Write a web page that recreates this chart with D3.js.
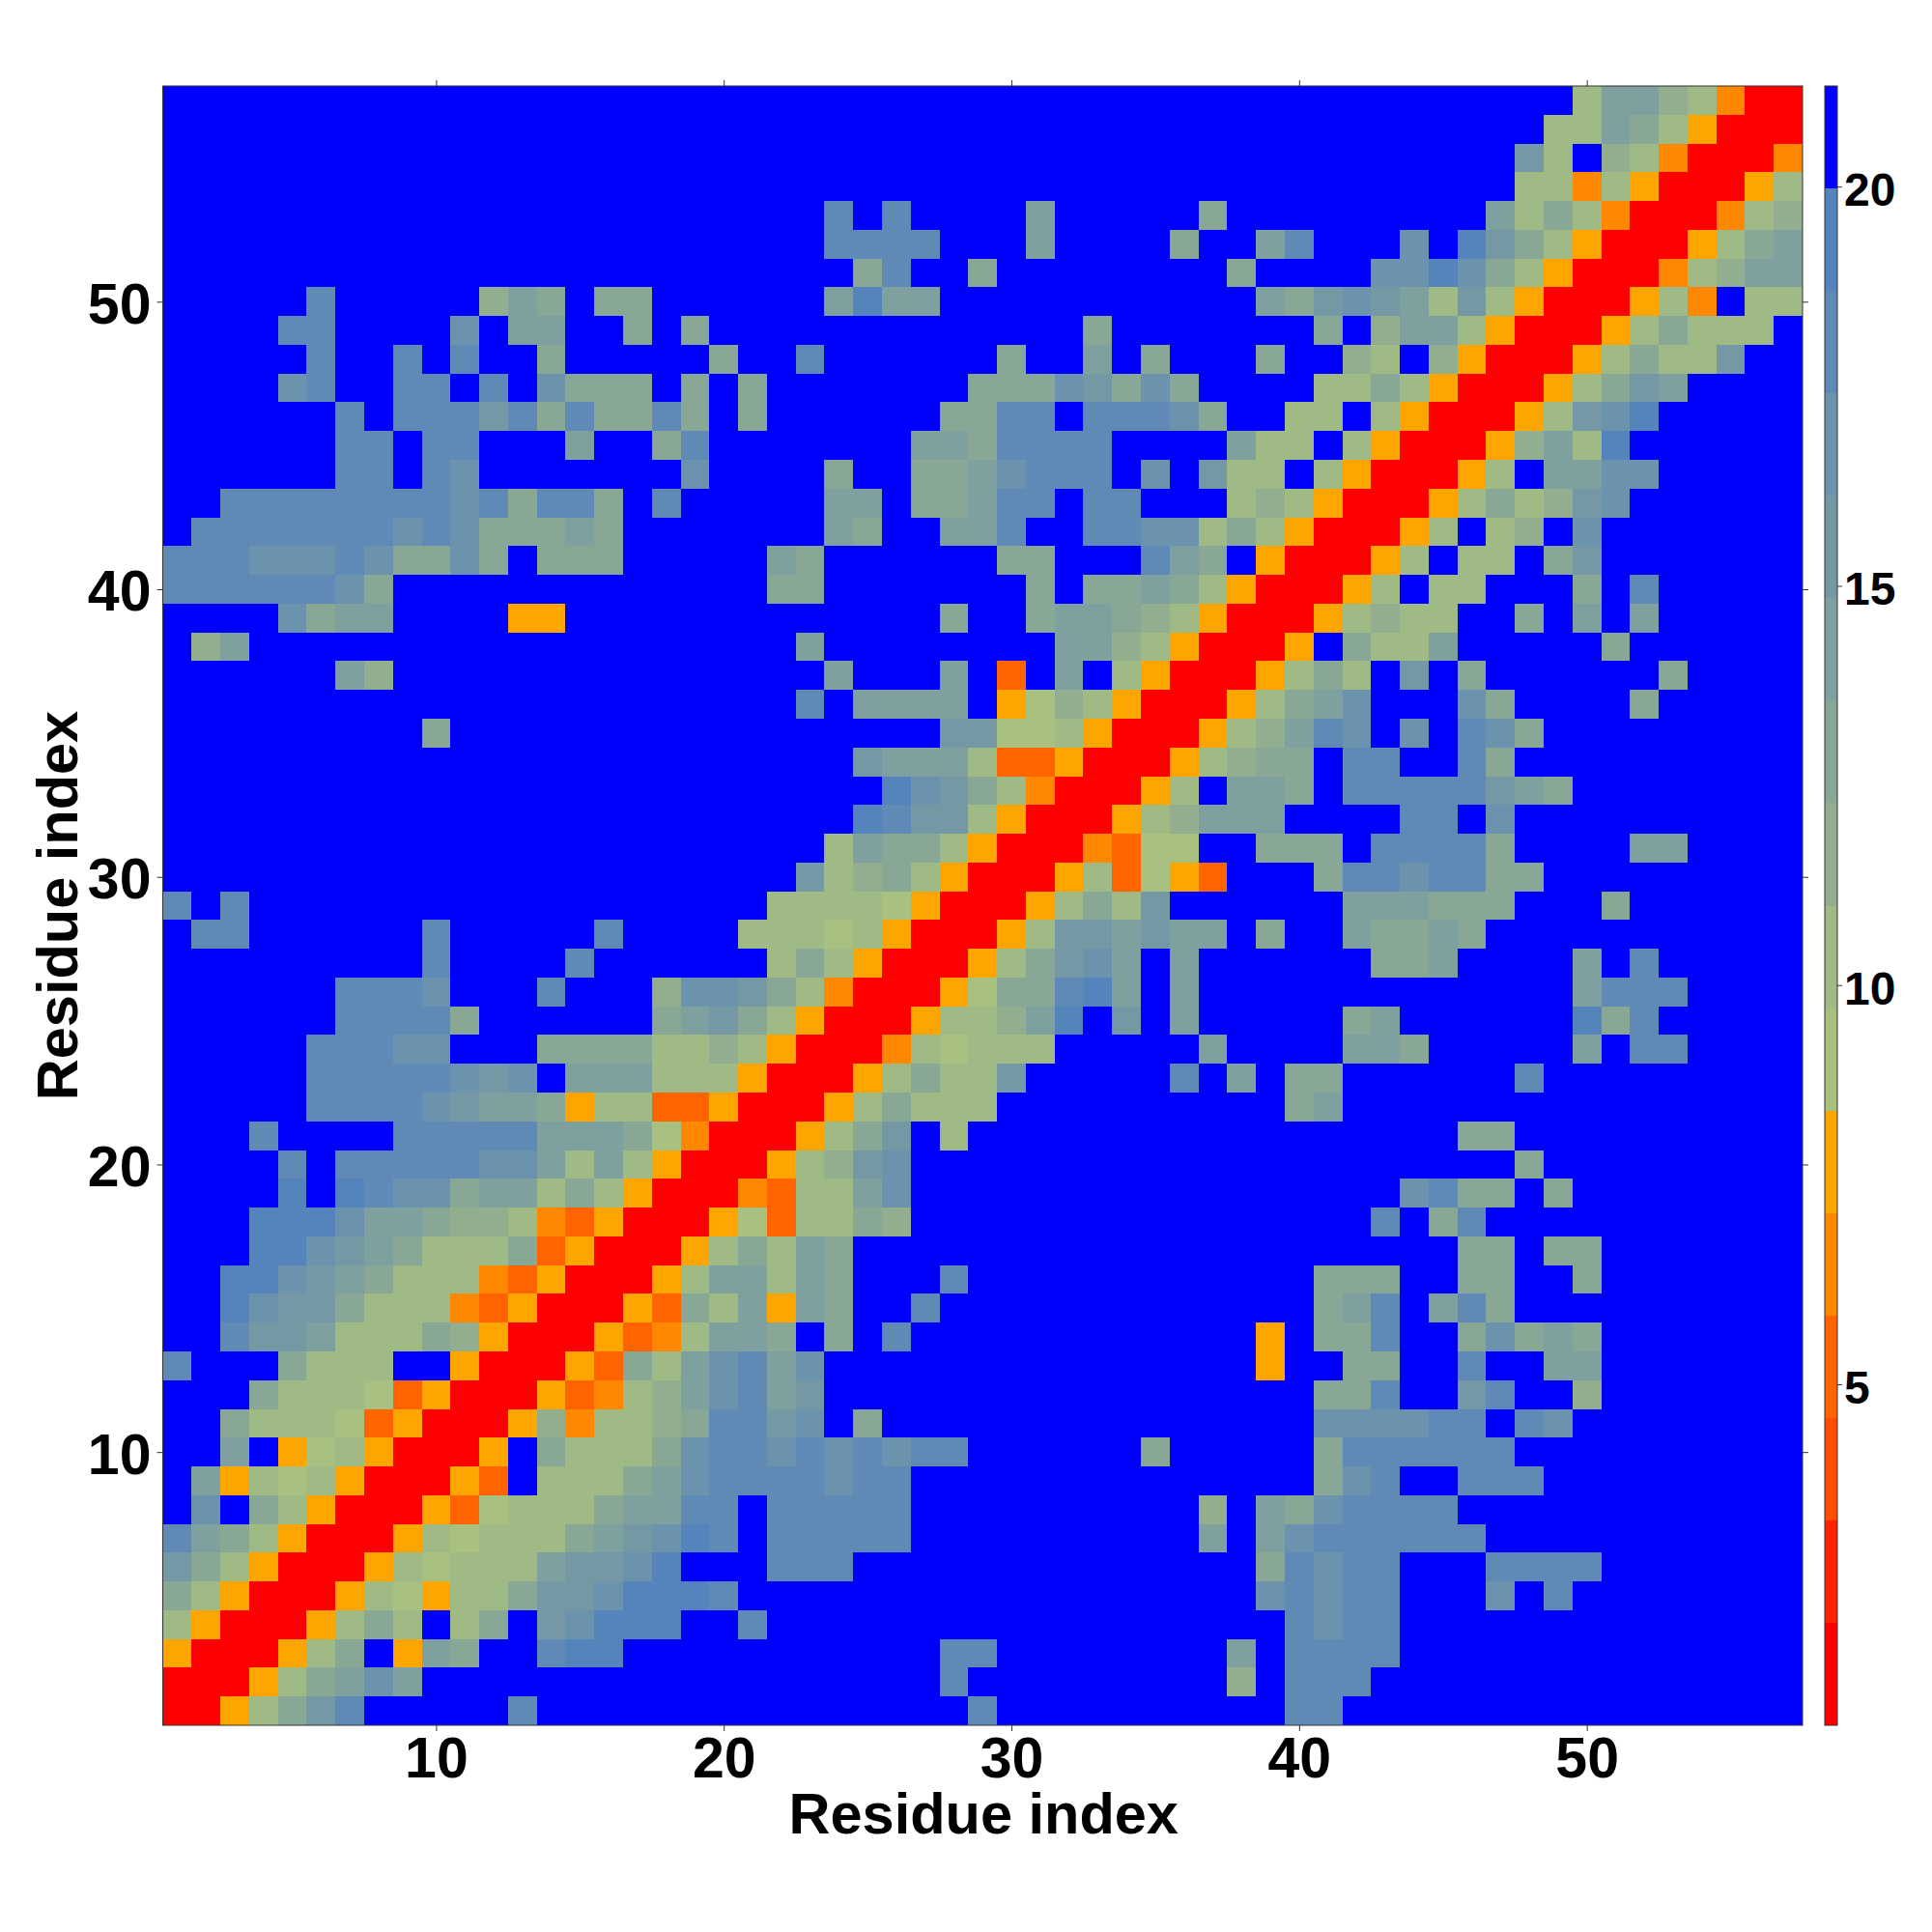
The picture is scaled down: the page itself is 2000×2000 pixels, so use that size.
<!DOCTYPE html>
<html><head><meta charset="utf-8">
<script src="https://cdn.jsdelivr.net/npm/d3@7"></script>
<style>html,body{margin:0;background:#fff}svg{display:block}text{font-family:"Liberation Sans",Arial,sans-serif;font-weight:700;fill:#000}</style>
</head><body><div id="c"></div>
<script>
// Lower triangle of the symmetric residue distance matrix. Row n holds residues 1..n.
// Each character is a colour band: 1..9, a..f, g (g = beyond cutoff).
const distanceRows = [
"1","11","611","8611","a8611","ca8611","eba8611","gdga8611","gb6878611","ggbg678611",
"gga88874611","ggga88874611","eggga888gg611","ggeccb888a9611","ggfdcca88854611","ggffdcba88854611",
"gggffdcba888a4611","gggfffdbba99854611","ggggfgfeddabb8a8611",
"ggggegeeeeeddb8b861"+"1",
"gggeggggeeeeebbba75"+"11",
"gggggeeeedcbba68844"+"611",
"gggggeeeeedcdgbbb88"+"8611",
"gggggeeeddgggaaaa88"+"98611",
"ggggggeeeeaggggggab"+"ca8611",
"ggggggeeedgggeggg9d"+"dca8511",
"gggggggggeggggegggg"+"gg8a8611",
"geeggggggegggggeggg"+"g88878611",
"egegggggggggggggggg"+"gg88887611",
"ggggggggggggggggggg"+"gggc89a8611",
"ggggggggggggggggggg"+"gggg8baa8611",
"ggggggggggggggggggg"+"gggggfecc8611",
"ggggggggggggggggggg"+"ggggggfdca8511",
"ggggggggggggggggggg"+"gggggcbbb844611",
"gggggggggaggggggggg"+"ggggggggcc778611",
"ggggggggggggggggggg"+"gggegbbbbg6798611",
"ggggggb9ggggggggggg"+"ggggbgggbg4gbg8611",
"g9bgggggggggggggggg"+"gggbggggggggbb98611",
"ggggdabbgggg66ggggg"+"ggggggggaggabba9861"+"1",
"eeeeeedaggggggggggg"+"ggaagggggggagaaba86"+"11",
"eeedddedaadagaaaggg"+"ggbaggggggaagggebag"+"611",
"geeeeeeededaaabaggg"+"ggggbaggbbeggeedd8a"+"8611",
"ggeeeeeeeedeaeeageg"+"ggggbbgaabeegeeggg8"+"98611",
"ggggggeegedgggggggd"+"ggggaggaabdeeegdgc8"+"8g8611",
"ggggggeegeegggbggae"+"gggggggbbaeeeeggggb"+"88g8611",
"ggggggegeeeceaeaaea"+"gaggggggaaeegeeedag"+"g88g8611",
"ggggdeggeegegdaaaga"+"gagggggggaaadcadagg"+"gg88a8611",
"gggggeggegeggaggggg"+"aggeggggggaggbgaggg"+"agg98g9611",
"ggggeeggggdgbbggaga"+"gggggggggggggaggggg"+"ggag9bb8611",
"gggggeggggg9bagaagg"+"ggggbfbbggggggggggg"+"bacdcb8c8611",
"ggggggggggggggggggg"+"gggggaeggagggggggga"+"ggggddfda8611",
"ggggggggggggggggggg"+"ggggeeeegggbggggagg"+"begggdgfca8611",
"ggggggggggggggggggg"+"ggggegeggggbgggggag"+"ggggggggb8a8511",
"ggggggggggggggggggg"+"ggggggggggggggggggg"+"ggggggggg8858611",
"ggggggggggggggggggg"+"ggggggggggggggggggg"+"gggggggggc8g98511",
"ggggggggggggggggggg"+"ggggggggggggggggggg"+"gggggggggg88ba8611",
"ggggggggggggggggggg"+"ggggggggggggggggggg"+"ggggggggggg8bb98511"
];
const bandColors = ["#ff0000","#ff2200","#ff4d00","#ff6400","#ff8800","#ffa500","#a8c080","#a0ba85","#92ae8e","#88a895","#7ea09e","#7499a5","#6c93ad","#5f8ab5","#5484bb","#0000ff"];
const valueMin = 0.73, valueMax = 21.26;
const axisTicks = [10,20,30,40,50];
const barTicks = [5,10,15,20];
const axisTitle = "Residue index";

const n = distanceRows.length;
const bandCodes = "123456789abcdefg";
const bandWidth = (valueMax-valueMin)/bandColors.length;
const value = ch => valueMin + (bandCodes.indexOf(ch)+0.5)*bandWidth;
const cells = [];
distanceRows.forEach((row,j)=>{
  [...row].forEach((ch,i)=>{
    cells.push({x:i+1,y:j+1,v:value(ch)});
    if(i!==j) cells.push({x:j+1,y:i+1,v:value(ch)});
  });
});

const L=168.5,R=1866,T=89,B=1786;
const x=d3.scaleLinear().domain([0.5,n+0.5]).range([L,R]);
const y=d3.scaleLinear().domain([0.5,n+0.5]).range([B,T]);
const color=d3.scaleQuantize().domain([valueMin,valueMax]).range(bandColors);

const svg=d3.select("#c").append("svg").attr("width",2000).attr("height",2000);
svg.append("rect").attr("width",2000).attr("height",2000).attr("fill","#fff");

svg.append("g").attr("shape-rendering","crispEdges").selectAll("rect").data(cells).join("rect")
 .attr("x",d=>x(d.x-0.5)).attr("y",d=>y(d.y+0.5))
 .attr("width",d=>x(d.x+0.5)-x(d.x-0.5)).attr("height",d=>y(d.y-0.5)-y(d.y+0.5))
 .attr("fill",d=>color(d.v));

const style=(g,size,dy)=>{
  g.select(".domain").remove();
  g.selectAll(".tick line").attr("stroke","#333").attr("stroke-width",1);
  g.selectAll(".tick text").style("font-size",size+"px").attr("fill","#000")
   .attr("transform",`translate(0,${dy})`);
};
svg.append("g").attr("transform",`translate(0,${B})`)
 .call(d3.axisBottom(x).tickValues(axisTicks).tickFormat(d3.format("d")).tickSize(6).tickPadding(6)).call(style,59,0);
svg.append("g").attr("transform",`translate(${L},0)`)
 .call(d3.axisLeft(y).tickValues(axisTicks).tickFormat(d3.format("d")).tickSize(6).tickPadding(6)).call(style,59,3);
svg.append("g").attr("transform",`translate(0,${T})`)
 .call(d3.axisTop(x).tickValues(axisTicks).tickFormat("").tickSize(6)).call(style,59,0);
svg.append("g").attr("transform",`translate(${R},0)`)
 .call(d3.axisRight(y).tickValues(axisTicks).tickFormat("").tickSize(6)).call(style,59,0);
svg.append("rect").attr("x",L).attr("y",T).attr("width",R-L).attr("height",B-T)
 .attr("fill","none").attr("stroke","#333").attr("stroke-width",1);

svg.append("text").attr("x",(L+R)/2+1).attr("y",1898).attr("text-anchor","middle").style("font-size","59.5px").text(axisTitle);
svg.append("text").attr("transform",`translate(80,${(T+B)/2}) rotate(-90)`).attr("text-anchor","middle").style("font-size","59.5px").text(axisTitle);

// colour bar
const bx0=1889,bx1=1902;
const by=d3.scaleLinear().domain([valueMin,valueMax]).range([B,T]);
svg.append("g").attr("shape-rendering","crispEdges").selectAll("rect").data(bandColors).join("rect")
 .attr("x",bx0).attr("width",bx1-bx0)
 .attr("y",(d,i)=>by(valueMin+(i+1)*bandWidth))
 .attr("height",(d,i)=>by(valueMin+i*bandWidth)-by(valueMin+(i+1)*bandWidth))
 .attr("fill",d=>d);
svg.append("rect").attr("x",bx0).attr("y",T).attr("width",bx1-bx0).attr("height",B-T)
 .attr("fill","none").attr("stroke","#333").attr("stroke-width",1);
svg.append("g").attr("transform",`translate(${bx1},0)`)
 .call(d3.axisRight(by).tickValues(barTicks).tickFormat(d3.format("d")).tickSize(5).tickPadding(2)).call(style,48,4);
</script></body></html>
